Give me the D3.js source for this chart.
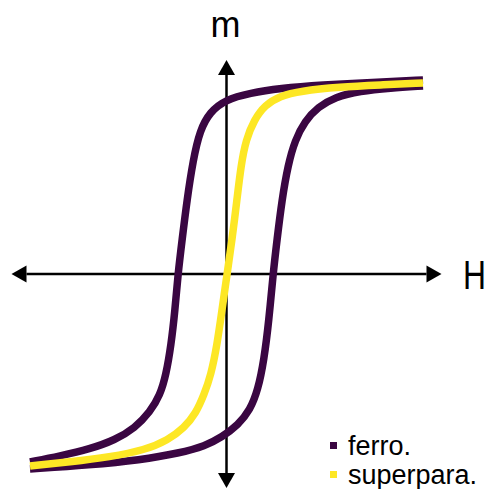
<!DOCTYPE html>
<html>
<head>
<meta charset="utf-8">
<script src="https://cdn.jsdelivr.net/npm/d3@7"></script>
<style>
  body { margin: 0; background: #fff; }
  text { font-family: "Liberation Sans", Arial, sans-serif; }
</style>
</head>
<body>
<script>
// data, H and m in -1..1 units
var ferroUpH = [-1.0, -0.847, -0.695, -0.567, -0.466, -0.389, -0.338, -0.308, -0.282, -0.262, -0.247, -0.226, -0.201, -0.170, -0.135, -0.084, -0.008, 0.120, 0.273, 0.476, 0.781, 1.0];
var ferroUpM = [-0.94, -0.91, -0.875, -0.83, -0.77, -0.69, -0.605, -0.505, -0.355, -0.18, 0, 0.17, 0.37, 0.57, 0.72, 0.81, 0.87, 0.905, 0.928, 0.945, 0.96, 0.97];

var ferroLowH = [-1.0, -0.695, -0.440, -0.237, -0.109, -0.023, 0.059, 0.120, 0.160, 0.191, 0.216, 0.237, 0.257, 0.282, 0.313, 0.349, 0.399, 0.466, 0.552, 0.679, 0.832, 1.0];
var ferroLowM = [-0.975, -0.955, -0.93, -0.895, -0.86, -0.815, -0.755, -0.68, -0.58, -0.43, -0.23, 0, 0.17, 0.37, 0.545, 0.67, 0.765, 0.835, 0.885, 0.915, 0.93, 0.94];

var superH = [-1.0, -0.796, -0.593, -0.415, -0.298, -0.216, -0.155, -0.115, -0.079, -0.048, -0.023, 0.003, 0.028, 0.053, 0.074, 0.099, 0.140, 0.196, 0.272, 0.374, 0.578, 0.781, 1.0];
var superM = [-0.96, -0.94, -0.915, -0.88, -0.83, -0.77, -0.695, -0.605, -0.505, -0.355, -0.18, 0, 0.17, 0.37, 0.545, 0.67, 0.77, 0.845, 0.89, 0.915, 0.935, 0.945, 0.955];

var legendLabels = ["ferro.", "superpara."];
var colors = ["#3a0642", "#fde725"];

var width = 491, height = 489;

var x = d3.scaleLinear().domain([-1, 1]).range([30, 423]);
var y = d3.scaleLinear().domain([-1, 1]).range([474, 74]);

var svg = d3.select("body").append("svg")
    .attr("width", width)
    .attr("height", height);

function zip(hs, ms) {
  return hs.map(function(h, i) { return [h, ms[i]]; });
}

var line = d3.line()
    .x(function(d) { return x(d[0]); })
    .y(function(d) { return y(d[1]); })
    .curve(d3.curveBasis);

// axes with arrows
var x0 = x(0), y0 = y(0);
var axisG = svg.append("g");
axisG.append("line")
    .attr("x1", x0 - 200).attr("x2", x0 + 200)
    .attr("y1", y0).attr("y2", y0)
    .attr("stroke", "#000").attr("stroke-width", 2.5);
axisG.append("line")
    .attr("x1", x0).attr("x2", x0)
    .attr("y1", y0 - 200).attr("y2", y0 + 200)
    .attr("stroke", "#000").attr("stroke-width", 2.5);

var hl = 15, hw = 8.5;
var heads = [
  [[x0 - 215, y0], [x0 - 215 + hl, y0 - hw], [x0 - 215 + hl, y0 + hw]],
  [[x0 + 215, y0], [x0 + 215 - hl, y0 - hw], [x0 + 215 - hl, y0 + hw]],
  [[x0, y0 - 214], [x0 - hw, y0 - 214 + hl], [x0 + hw, y0 - 214 + hl]],
  [[x0, y0 + 214], [x0 - hw, y0 + 214 - hl], [x0 + hw, y0 + 214 - hl]]
];
axisG.selectAll("path.head")
    .data(heads)
  .enter().append("path")
    .attr("class", "head")
    .attr("d", function(d) { return "M" + d.join("L") + "Z"; })
    .attr("fill", "#000");

svg.append("text")
    .attr("x", x0 - 1).attr("y", 37)
    .attr("text-anchor", "middle")
    .style("font-size", "36px")
    .text("m");

svg.append("text")
    .attr("x", 463).attr("y", 289)
    .attr("textLength", 23)
    .attr("lengthAdjust", "spacingAndGlyphs")
    .style("font-size", "40px")
    .text("H");

// loops
svg.append("path")
    .datum(zip(ferroUpH, ferroUpM))
    .attr("d", line)
    .attr("fill", "none")
    .attr("stroke", colors[0])
    .attr("stroke-width", 7.5);

svg.append("path")
    .datum(zip(ferroLowH, ferroLowM))
    .attr("d", line)
    .attr("fill", "none")
    .attr("stroke", colors[0])
    .attr("stroke-width", 7.5);

svg.append("path")
    .datum(zip(superH, superM))
    .attr("d", line)
    .attr("fill", "none")
    .attr("stroke", colors[1])
    .attr("stroke-width", 7.5);

// legend
var legend = svg.selectAll("g.legend")
    .data(legendLabels)
  .enter().append("g")
    .attr("class", "legend")
    .attr("transform", function(d, i) { return "translate(330," + (455 + i * 29) + ")"; });

legend.append("rect")
    .attr("x", 0).attr("y", -13)
    .attr("width", 7).attr("height", 7)
    .attr("fill", function(d, i) { return colors[i]; });

legend.append("text")
    .attr("x", 18).attr("y", 0)
    .style("font-size", "27px")
    .text(function(d) { return d; });
</script>
</body>
</html>
